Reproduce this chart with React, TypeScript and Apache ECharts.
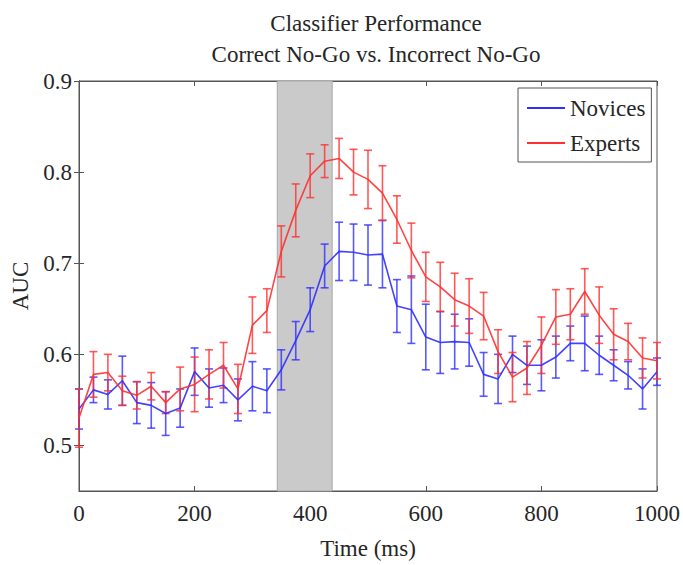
import React, { useEffect, useRef } from "react";
import * as echarts from "echarts";

const times = [0, 25, 50, 75, 100, 125, 150, 175, 200, 225, 250, 275, 300, 325, 350, 375, 400, 425, 450, 475, 500, 525, 550, 575, 600, 625, 650, 675, 700, 725, 750, 775, 800, 825, 850, 875, 900, 925, 950, 975, 1000];

const noviceMean = [0.54, 0.561, 0.556, 0.571, 0.547, 0.544, 0.535, 0.541, 0.581, 0.563, 0.566, 0.55, 0.565, 0.56, 0.583, 0.615, 0.649, 0.697, 0.713, 0.712, 0.709, 0.71, 0.653, 0.649, 0.619, 0.613, 0.614, 0.613, 0.578, 0.573, 0.6, 0.588, 0.588, 0.597, 0.612, 0.612, 0.599, 0.588, 0.577, 0.562, 0.581];
const noviceErr = [0.022, 0.014, 0.016, 0.027, 0.023, 0.025, 0.024, 0.021, 0.026, 0.021, 0.019, 0.023, 0.027, 0.024, 0.022, 0.021, 0.024, 0.024, 0.032, 0.031, 0.033, 0.037, 0.029, 0.037, 0.036, 0.034, 0.03, 0.026, 0.024, 0.027, 0.02, 0.021, 0.028, 0.023, 0.019, 0.03, 0.021, 0.017, 0.015, 0.022, 0.015];

const expertMean = [0.53, 0.578, 0.58, 0.56, 0.555, 0.565, 0.547, 0.562, 0.567, 0.578, 0.588, 0.562, 0.632, 0.648, 0.713, 0.758, 0.796, 0.812, 0.815, 0.8, 0.792, 0.777, 0.748, 0.714, 0.685, 0.674, 0.66, 0.653, 0.642, 0.603, 0.575, 0.585, 0.61, 0.641, 0.644, 0.669, 0.643, 0.622, 0.614, 0.596, 0.593];
const expertErr = [0.032, 0.025, 0.02, 0.016, 0.015, 0.015, 0.012, 0.024, 0.03, 0.027, 0.025, 0.027, 0.031, 0.024, 0.028, 0.029, 0.024, 0.018, 0.022, 0.025, 0.032, 0.03, 0.026, 0.03, 0.027, 0.027, 0.029, 0.03, 0.026, 0.024, 0.027, 0.029, 0.031, 0.03, 0.028, 0.025, 0.031, 0.028, 0.02, 0.022, 0.02];

const yTicks = [0.5, 0.6, 0.7, 0.8, 0.9];
const shadedWindow = [343, 438];

const FONT = "Liberation Serif";
const TXT = "#262626";
const AX = "#555555";
const BLUE = "#2f2fff";
const RED = "#ff3030";

function errorSeries(name: string, mean: number[], err: number[], color: string) {
  return {
    type: "custom",
    name: name + " error",
    xAxisIndex: 0,
    yAxisIndex: 0,
    silent: true,
    encode: { x: 0, y: [1, 2] },
    data: times.map((t, i) => [t, mean[i] - err[i], mean[i] + err[i]]),
    renderItem: (params: any, api: any) => {
      const x = api.value(0);
      const lo = api.coord([x, api.value(1)]);
      const hi = api.coord([x, api.value(2)]);
      const w = 4;
      const style = { stroke: color, lineWidth: 1.6, opacity: 0.8 };
      return {
        type: "group",
        children: [
          { type: "line", shape: { x1: lo[0], y1: lo[1], x2: hi[0], y2: hi[1] }, style },
          { type: "line", shape: { x1: lo[0] - w, y1: lo[1], x2: lo[0] + w, y2: lo[1] }, style },
          { type: "line", shape: { x1: hi[0] - w, y1: hi[1], x2: hi[0] + w, y2: hi[1] }, style },
        ],
      };
    },
  };
}

export default function App() {
  const ref = useRef<HTMLDivElement>(null);
  useEffect(() => {
    if (!ref.current) return;
    const chart = echarts.init(ref.current, null, { renderer: "svg" });
    const tickAxisCommon = {
      axisLine: { show: true, lineStyle: { color: AX, width: 1 } },
      axisTick: { show: true, inside: true, length: 5, lineStyle: { color: AX } },
      splitLine: { show: false },
    };
    chart.setOption({
      animation: false,
      backgroundColor: "#ffffff",
      title: {
        text: "Classifier Performance\nCorrect No-Go vs. Incorrect No-Go",
        left: 371,
        top: 3,
        textAlign: "center",
        textStyle: { fontFamily: FONT, fontSize: 23, fontWeight: "normal", color: TXT, lineHeight: 31 },
      },
      legend: {
        orient: "vertical",
        left: 518,
        top: 88,
        data: ["Novices", "Experts"],
        icon: "rect",
        itemWidth: 38,
        itemHeight: 2,
        itemGap: 11,
        itemTextGap: 6,
        padding: [8, 6, 7, 9],
        borderColor: "#555555",
        borderWidth: 1,
        backgroundColor: "#ffffff",
        textStyle: { fontFamily: FONT, fontSize: 23, color: TXT, lineHeight: 24 },
      },
      grid: { left: 79, right: 23, top: 81, bottom: 74, show: true, borderColor: AX, borderWidth: 1, backgroundColor: "transparent" },
      xAxis: [
        {
          type: "value",
          min: 0,
          max: 1000,
          interval: 200,
          position: "bottom",
          name: "Time (ms)",
          nameLocation: "middle",
          nameGap: 46,
          nameTextStyle: { fontFamily: FONT, fontSize: 23, color: TXT },
          axisLabel: { fontFamily: FONT, fontSize: 23, color: TXT, margin: 11, formatter: (v: number) => String(v) },
          ...tickAxisCommon,
        },
        {
          type: "value",
          min: 0,
          max: 1000,
          interval: 200,
          position: "top",
          axisLabel: { show: false },
          ...tickAxisCommon,
        },
      ],
      yAxis: [
        {
          type: "value",
          min: 0.45,
          max: 0.9,
          position: "left",
          name: "AUC",
          nameLocation: "middle",
          nameGap: 45,
          nameTextStyle: { fontFamily: FONT, fontSize: 23, color: TXT },
          axisLabel: { customValues: yTicks, fontFamily: FONT, fontSize: 23, color: TXT, margin: 7, formatter: (v: number) => v.toFixed(1) },
          ...tickAxisCommon,
          axisTick: { show: true, inside: true, length: 5, customValues: yTicks, lineStyle: { color: AX } },
        },
        {
          type: "value",
          min: 0.45,
          max: 0.9,
          position: "right",
          axisLabel: { show: false, customValues: yTicks },
          ...tickAxisCommon,
          axisTick: { show: true, inside: true, length: 5, customValues: yTicks, lineStyle: { color: AX } },
        },
      ],
      series: [
        {
          type: "line",
          name: "window",
          data: [],
          silent: true,
          z: 0,
          markArea: {
            silent: true,
            itemStyle: { color: "#cacaca", borderColor: "#a8a8a8", borderWidth: 1 },
            data: [[{ xAxis: shadedWindow[0] }, { xAxis: shadedWindow[1] }]],
          },
        },
        errorSeries("Novices", noviceMean, noviceErr, BLUE),
        {
          type: "line",
          name: "Novices",
          data: times.map((t, i) => [t, noviceMean[i]]),
          showSymbol: false,
          color: BLUE,
          lineStyle: { color: BLUE, width: 1.6, opacity: 0.9 },
        },
        errorSeries("Experts", expertMean, expertErr, RED),
        {
          type: "line",
          name: "Experts",
          data: times.map((t, i) => [t, expertMean[i]]),
          showSymbol: false,
          color: RED,
          lineStyle: { color: RED, width: 1.6, opacity: 0.9 },
        },
      ],
    });
    return () => chart.dispose();
  }, []);
  return (
    <div
      ref={ref}
      style={{ position: "fixed", left: 0, top: 0, width: 683, height: 565, background: "#fff" }}
    />
  );
}
